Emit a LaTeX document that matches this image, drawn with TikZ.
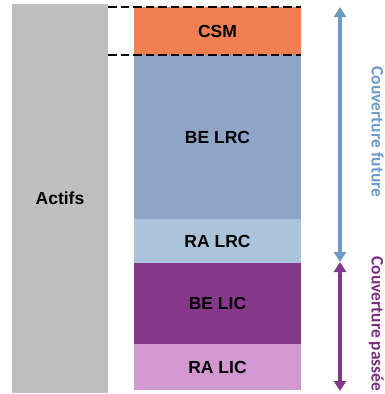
\documentclass[tikz,border=0pt]{standalone}
\usepackage{fontspec}
\setmainfont{Liberation Sans}
\newfontfamily\sidefont{Carlito}
\usetikzlibrary{arrows.meta}

\definecolor{actifgray}{HTML}{BFBFBF}
\definecolor{csmorange}{HTML}{F07F51}
\definecolor{belrc}{HTML}{8FA5C7}
\definecolor{ralrc}{HTML}{ABC4DA}
\definecolor{belic}{HTML}{86398A}
\definecolor{ralic}{HTML}{D198D2}
\definecolor{futureblue}{HTML}{6E9BC2}
\definecolor{futuretext}{HTML}{6C9BCD}
\definecolor{pastpurple}{HTML}{7E3A8A}
\definecolor{pasttext}{HTML}{7A2F82}

\tikzset{
  bar/.style={inner sep=0pt, outer sep=0pt, font=\fontsize{17.5}{20}\selectfont\bfseries, text=black},
  limit/.style={black, line width=2.6pt, dash pattern=on 8.5pt off 4pt},
  span/.style={line width=3.8pt, {Triangle[width=12pt,length=10pt]}-{Triangle[width=12pt,length=10pt]}},
  sidelabel/.style={rotate=-90, anchor=base, inner sep=0pt, font=\sidefont\fontsize{17.5}{20}\selectfont\bfseries}
}

\begin{document}
\begin{tikzpicture}[x=1pt, y=-1pt]
  \useasboundingbox (0,0) rectangle (385,394);

  % asset column
  \node[bar, fill=actifgray, minimum width=96.5pt, minimum height=389pt] (actifs) at (60,198.7) {Actifs};

  % liability stack
  \node[bar, fill=csmorange, minimum width=167pt, minimum height=48pt] (csm) at (217.5,31) {CSM};
  \node[bar, fill=belrc, minimum width=167pt, minimum height=164pt] (belrc) at (217.5,137) {BE LRC};
  \node[bar, fill=ralrc, minimum width=167pt, minimum height=44pt] (ralrc) at (217.5,241) {RA LRC};
  \node[bar, fill=belic, minimum width=167pt, minimum height=81pt] (belic) at (217.5,303.5) {BE LIC};
  \node[bar, fill=ralic, minimum width=167pt, minimum height=46pt] (ralic) at (217.5,367) {RA LIC};

  % dashed limits of the CSM
  \coordinate (csmtopleft) at (actifs.east |- csm.north);
  \coordinate (csmbotleft) at (actifs.east |- csm.south);
  \draw[limit] (csmtopleft) -- (csm.north east);
  \draw[limit] (csmbotleft) -- (csm.south east);

  % coverage periods
  \coordinate (futtop) at (340,7);
  \coordinate (mid) at (340,262);
  \coordinate (pastbot) at (340,391);
  \draw[span, futureblue] (futtop) -- (mid);
  \draw[span, pastpurple] (mid) -- (pastbot);

  \node[sidelabel, text=futuretext] (future) at (371.5,132) {Couverture future};
  \node[sidelabel, text=pasttext] (past) at (371.5,324) {Couverture passée};
\end{tikzpicture}
\end{document}
